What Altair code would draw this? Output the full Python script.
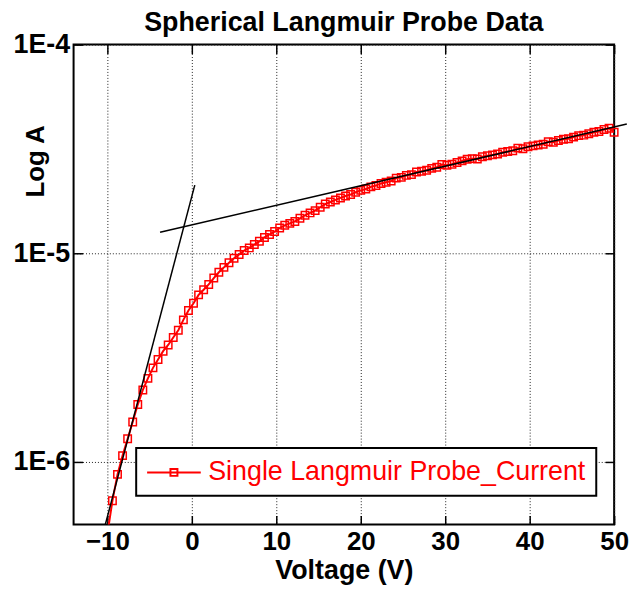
import altair as alt
import pandas as pd

title_text = "Spherical Langmuir Probe Data"
x_title = "Voltage (V)"
y_title = "Log A"
series_name = "Single Langmuir Probe_Current"

voltage = [
    -10.0, -9.4, -8.8, -8.2, -7.6, -7.0, -6.4, -5.8, -5.2, -4.6,
    -4.0, -3.4, -2.8, -2.2, -1.6, -1.0, -0.4, 0.2, 0.8, 1.4,
    2.0, 2.6, 3.2, 3.8, 4.4, 5.0, 5.6, 6.2, 6.8, 7.4,
    8.0, 8.6, 9.2, 9.8, 10.4, 11.0, 11.6, 12.2, 12.8, 13.4,
    14.0, 14.6, 15.2, 15.8, 16.4, 17.0, 17.6, 18.2, 18.8, 19.4,
    20.0, 20.6, 21.2, 21.8, 22.4, 23.0, 23.6, 24.2, 24.8, 25.4,
    26.0, 26.6, 27.2, 27.8, 28.4, 29.0, 29.6, 30.2, 30.8, 31.4,
    32.0, 32.6, 33.2, 33.8, 34.4, 35.0, 35.6, 36.2, 36.8, 37.4,
    38.0, 38.6, 39.2, 39.8, 40.4, 41.0, 41.6, 42.2, 42.8, 43.4,
    44.0, 44.6, 45.2, 45.8, 46.4, 47.0, 47.6, 48.2, 48.8, 49.4,
    50.0,
]
current = [
    4.5e-7, 6.5e-7, 8.7e-7, 1.07e-6, 1.29e-6, 1.55e-6, 1.88e-6, 2.21e-6, 2.51e-6, 2.82e-6,
    3.09e-6, 3.39e-6, 3.63e-6, 3.94e-6, 4.27e-6, 4.79e-6, 5.31e-6, 5.75e-6, 6.31e-6, 6.68e-6,
    7.08e-6, 7.6e-6, 8.1e-6, 8.55e-6, 9.0e-6, 9.45e-6, 9.85e-6, 1.03e-5, 1.06e-5, 1.10e-5,
    1.14e-5, 1.19e-5, 1.23e-5, 1.27e-5, 1.32e-5, 1.36e-5, 1.39e-5, 1.42e-5, 1.47e-5, 1.52e-5,
    1.56e-5, 1.60e-5, 1.66e-5, 1.72e-5, 1.76e-5, 1.80e-5, 1.84e-5, 1.88e-5, 1.91e-5, 1.96e-5,
    2.00e-5, 2.03e-5, 2.08e-5, 2.11e-5, 2.16e-5, 2.19e-5, 2.22e-5, 2.29e-5, 2.31e-5, 2.36e-5,
    2.38e-5, 2.45e-5, 2.47e-5, 2.50e-5, 2.55e-5, 2.58e-5, 2.66e-5, 2.64e-5, 2.67e-5, 2.72e-5,
    2.77e-5, 2.82e-5, 2.84e-5, 2.83e-5, 2.90e-5, 2.93e-5, 2.96e-5, 2.99e-5, 3.05e-5, 3.07e-5,
    3.10e-5, 3.19e-5, 3.17e-5, 3.24e-5, 3.27e-5, 3.30e-5, 3.33e-5, 3.42e-5, 3.40e-5, 3.47e-5,
    3.52e-5, 3.54e-5, 3.60e-5, 3.66e-5, 3.68e-5, 3.74e-5, 3.80e-5, 3.83e-5, 3.92e-5, 3.97e-5,
    3.80e-5,
]

fit_low_v = [-10.24, 0.35]
fit_low_i = [5.0e-7, 2.12e-5]
fit_high_v = [-3.76, 51.5]
fit_high_i = [1.26e-5, 4.16e-5]

x_ticks = [-10, 0, 10, 20, 30, 40, 50]
y_ticks = [1e-6, 1e-5, 1e-4]
x_domain = [-14, 50]
y_domain = [5e-7, 1e-4]

FONT = "Liberation Sans"

df = pd.DataFrame({"V": voltage, "I": current, "series": series_name})
fit1 = pd.DataFrame({"V": fit_low_v, "I": fit_low_i})
fit2 = pd.DataFrame({"V": fit_high_v, "I": fit_high_i})

xscale = alt.Scale(domain=x_domain, nice=False, zero=False)
yscale = alt.Scale(type="log", domain=y_domain, nice=False)

grid_kw = dict(grid=True, gridColor="#222222", gridDash=[1, 2], gridWidth=1)

x_main = alt.Axis(
    values=x_ticks, title=x_title, ticks=False, tickSize=0, domain=False,
    labelFont=FONT, labelFontSize=26, labelFontWeight="bold", labelColor="black",
    labelPadding=4, labelFlush=False, labelOverlap=False,
    titleFont=FONT, titleFontSize=27, titleFontWeight="bold", titleColor="black",
    titlePadding=3, **grid_kw,
)
y_main = alt.Axis(
    values=y_ticks, title=y_title, ticks=False, tickSize=0, domain=False,
    labelExpr="'1E' + round(log(datum.value) / LN10)",
    labelFont=FONT, labelFontSize=27, labelFontWeight="bold", labelColor="black",
    labelPadding=4, labelFlush=False, labelOverlap=False,
    titleFont=FONT, titleFontSize=26, titleFontWeight="bold", titleColor="black",
    titleX=-38, titleY=117, titleAlign="center", titleBaseline="middle", titleAngle=270,
    **grid_kw,
)


def tick_axis(values, orient):
    return alt.Axis(
        values=values, orient=orient, offset=-9, ticks=True, tickSize=9,
        tickWidth=1.5, tickColor="black", domain=False, labels=False,
        grid=False, title=None,
    )


legend = alt.Legend(
    title=None, orient="none", legendX=63, legendY=406,
    symbolType="M-2,0H2M-0.26,-0.26H0.26V0.26H-0.26Z",
    symbolSize=729, symbolStrokeWidth=2, symbolOffset=13.5,
    labelOffset=20, labelFont=FONT, labelFontSize=27, labelColor="red",
    labelLimit=0, padding=10, strokeColor="black", fillColor="white",
)

line = alt.Chart(df).mark_line(strokeWidth=2, clip=True).encode(
    x=alt.X("V:Q", scale=xscale, axis=x_main),
    y=alt.Y("I:Q", scale=yscale, axis=y_main),
    color=alt.Color("series:N", scale=alt.Scale(domain=[series_name], range=["#ff0000"]), legend=legend),
)

points = alt.Chart(df).transform_filter(alt.datum.I >= y_domain[0]).mark_point(
    shape="square", size=56, filled=False, strokeWidth=1.5, color="#ff0000", opacity=1, clip=False
).encode(
    x=alt.X("V:Q", scale=xscale, axis=tick_axis(x_ticks, "bottom")),
    y=alt.Y("I:Q", scale=yscale, axis=tick_axis(y_ticks, "left")),
)

fit_low = alt.Chart(fit1).mark_line(color="black", strokeWidth=1.5, clip=True).encode(
    x=alt.X("V:Q", scale=xscale, axis=tick_axis(x_ticks, "top")),
    y=alt.Y("I:Q", scale=yscale, axis=tick_axis(y_ticks, "right")),
)

fit_high = alt.Chart(fit2).mark_line(color="black", strokeWidth=1.5, clip=False).encode(
    x=alt.X("V:Q", scale=xscale, axis=None),
    y=alt.Y("I:Q", scale=yscale, axis=None),
)

chart = alt.layer(line, points, fit_low, fit_high).resolve_axis(
    x="independent", y="independent"
).properties(
    width=544,
    height=483,
    title=alt.Title(title_text, font=FONT, fontSize=27, fontWeight="bold", color="black",
                    anchor="middle", frame="group", offset=-6),
    padding={"left": 66, "top": 35, "right": 22, "bottom": 60},
    autosize=alt.AutoSizeParams(type="none"),
    background="white",
).configure_view(stroke="black", strokeWidth=2).configure_legend(strokeWidth=2)

chart.save("out.html", embed_options={"renderer": "svg", "actions": False})
